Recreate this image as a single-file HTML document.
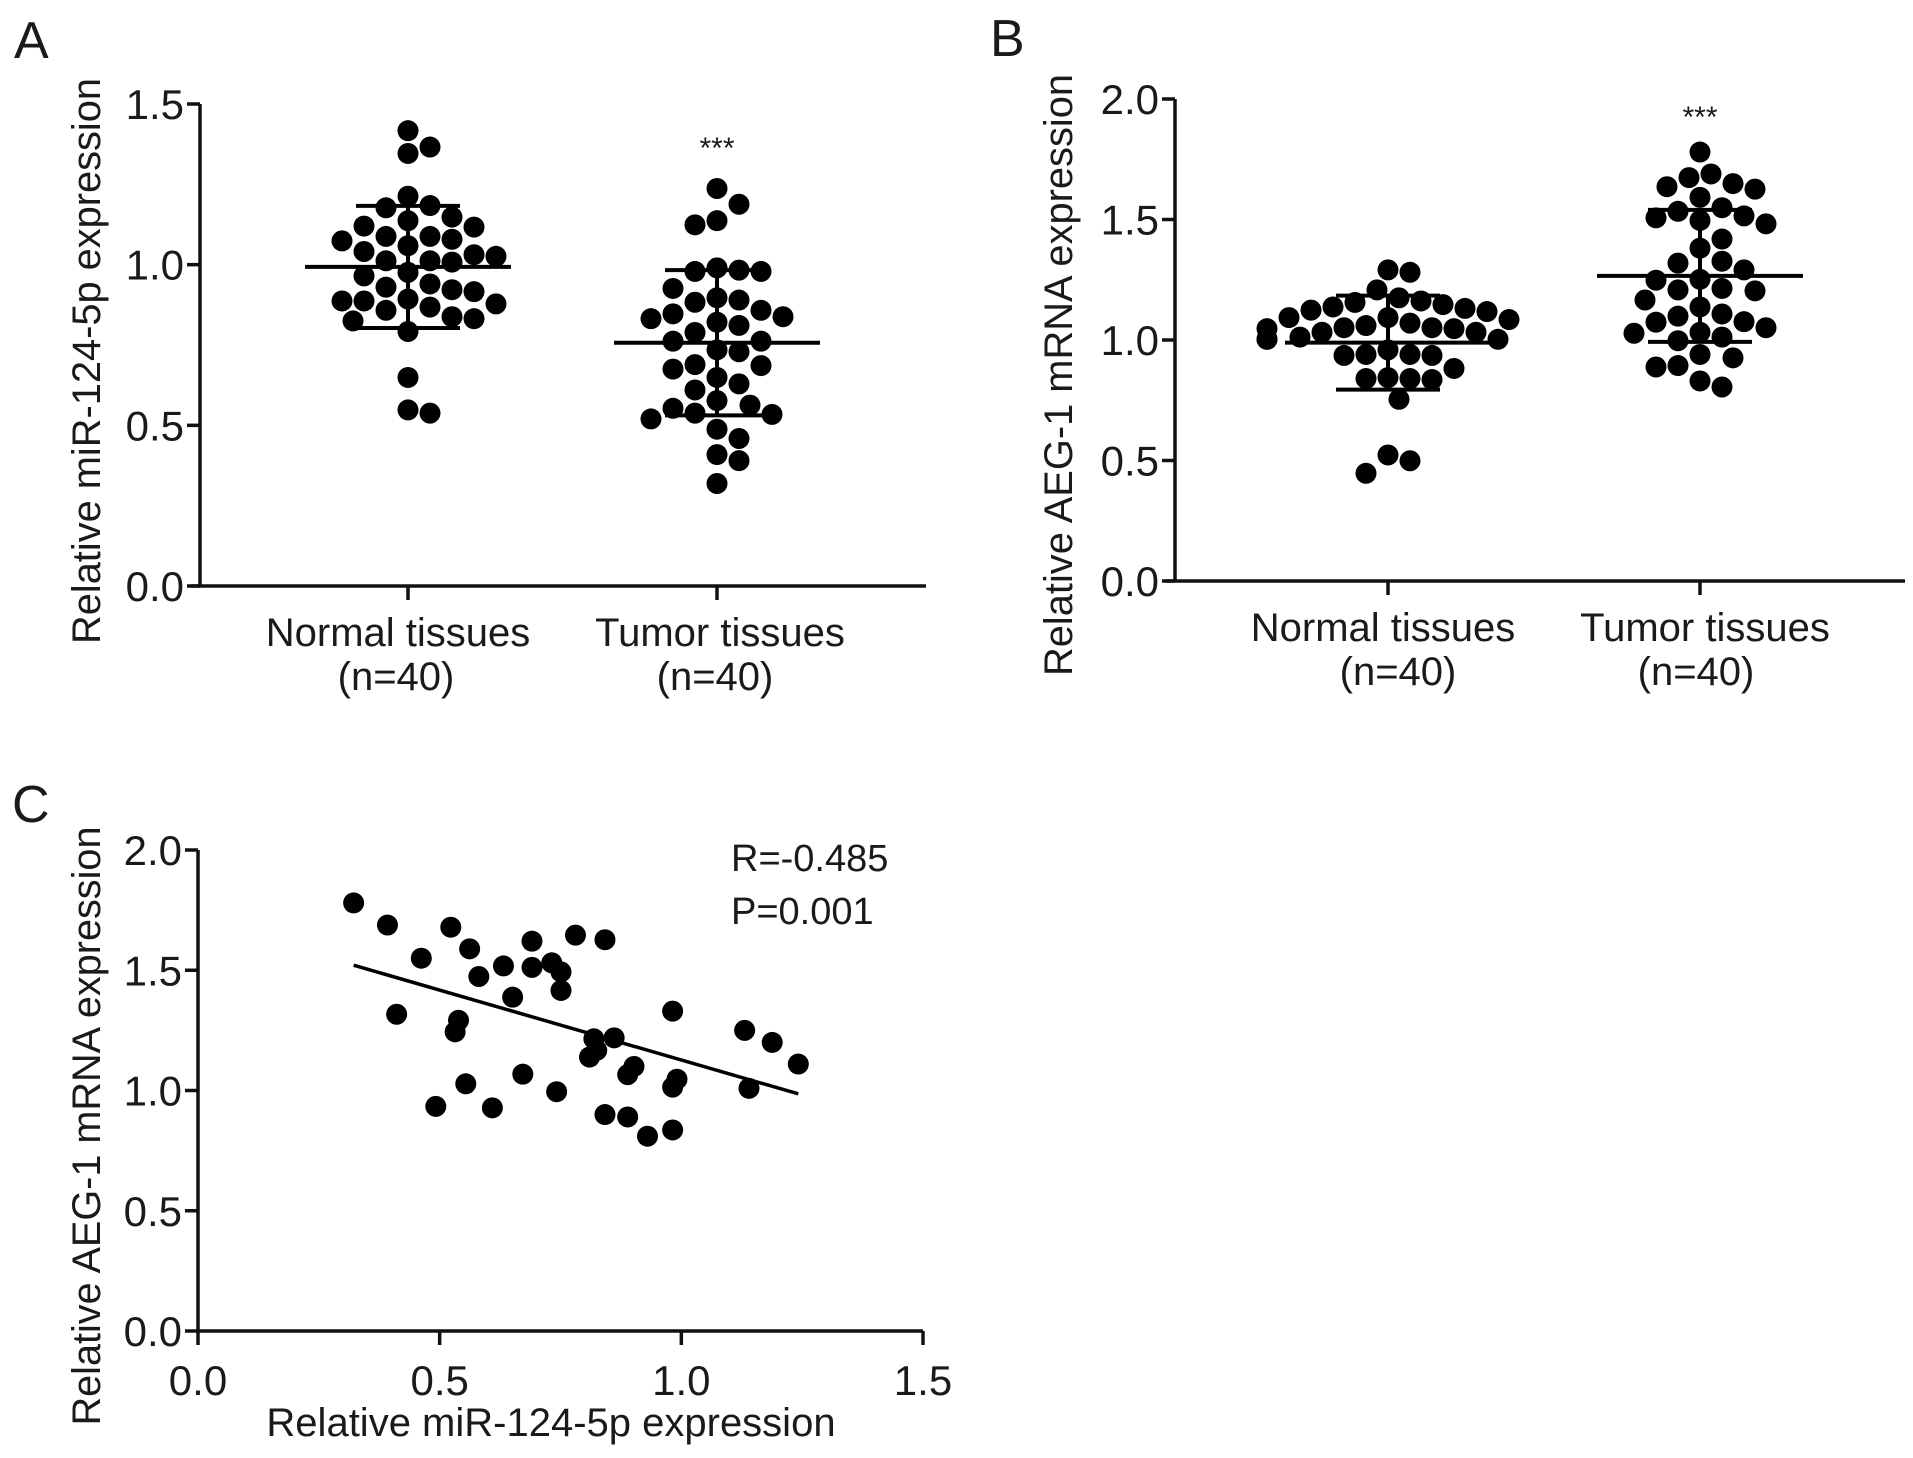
<!DOCTYPE html>
<html><head><meta charset="utf-8"><style>
html,body{margin:0;padding:0;background:#fff}
svg{display:block}
text{font-family:"Liberation Sans",Arial,sans-serif;fill:#1a1a1a}
</style></head><body>
<svg id="fig" width="1913" height="1458" viewBox="0 0 1913 1458" xmlns="http://www.w3.org/2000/svg">
<text x="14" y="58" font-size="52">A</text>
<text x="990" y="56" font-size="52">B</text>
<text x="12" y="822" font-size="52">C</text>
<g id="pa"></g>
<g id="pb"></g>
<g id="pc"></g>
</svg>
<script>
// ---------- Panel A data ----------
const catsA = ["Normal tissues", "Tumor tissues"];
const normalA = [1.417,1.366,1.346,1.184,1.213,1.177,1.148,1.120,1.117,1.137,1.088,1.079,1.059,1.088,1.074,1.031,1.012,1.008,1.012,1.026,1.041,0.965,0.930,0.916,0.922,0.940,0.976,0.887,0.878,0.858,0.832,0.893,0.825,0.838,0.868,0.887,0.792,0.649,0.538,0.548];
const tumorA = [1.237,1.188,1.137,1.124,0.979,0.983,0.979,0.990,0.926,0.890,0.883,0.897,0.858,0.838,0.821,0.847,0.811,0.832,0.729,0.689,0.762,0.789,0.735,0.762,0.649,0.675,0.686,0.629,0.610,0.577,0.553,0.534,0.563,0.520,0.538,0.488,0.459,0.409,0.390,0.319];
const meansA = [0.993, 0.757];
const sdsA = [0.19, 0.226];
const ticksA = [0.0, 0.5, 1.0, 1.5];
const tickLabelsA = ["0.0","0.5","1.0","1.5"];
// ---------- Panel B data ----------
const catsB = ["Normal tissues", "Tumor tissues"];
const normalB = [1.281,1.291,1.208,1.156,1.175,1.162,1.137,1.118,1.093,1.070,1.060,1.051,1.093,1.124,1.131,1.147,1.085,1.051,1.047,1.032,1.003,1.012,1.003,1.047,1.003,1.032,0.959,0.940,0.936,0.940,0.936,0.882,0.840,0.836,0.840,0.844,0.754,0.523,0.499,0.447];
const tumorB = [1.780,1.689,1.674,1.649,1.626,1.636,1.592,1.549,1.515,1.496,1.482,1.507,1.534,1.419,1.381,1.319,1.327,1.291,1.248,1.208,1.204,1.214,1.252,1.166,1.137,1.099,1.074,1.076,1.108,1.051,1.028,0.997,1.012,1.032,0.926,0.888,0.940,0.894,0.805,0.830];
const meansB = [0.989, 1.266];
const sdsB = [0.195, 0.274];
const ticksB = [0.0, 0.5, 1.0, 1.5, 2.0];
const tickLabelsB = ["0.0","0.5","1.0","1.5","2.0"];
// ---------- Panel C data ----------
const mirC = [0.322,0.392,0.523,0.562,0.462,0.632,0.581,0.691,0.691,0.781,0.842,0.732,0.751,0.751,0.651,0.411,0.539,0.532,0.982,0.819,0.861,0.825,0.810,1.131,1.188,1.242,0.672,0.889,0.902,0.991,0.982,0.554,0.742,1.140,0.492,0.609,0.842,0.889,0.982,0.930];
const aegC = [1.780,1.688,1.679,1.589,1.550,1.518,1.474,1.621,1.512,1.646,1.627,1.531,1.493,1.416,1.388,1.317,1.292,1.244,1.330,1.215,1.219,1.167,1.139,1.250,1.200,1.110,1.068,1.066,1.100,1.047,1.014,1.028,0.995,1.009,0.934,0.928,0.900,0.890,0.836,0.810];
const fitX = [0.322, 1.242];
const fitY = [1.521, 0.986];
const xTicksC = [0.0, 0.5, 1.0, 1.5];
const xTickLabelsC = ["0.0","0.5","1.0","1.5"];
const yTicksC = [0.0, 0.5, 1.0, 1.5, 2.0];
const yTickLabelsC = ["0.0","0.5","1.0","1.5","2.0"];

const NS = "http://www.w3.org/2000/svg";
function mk(parent, tag, attrs, txt){
  const e = document.createElementNS(NS, tag);
  for (const k in attrs) e.setAttribute(k, attrs[k]);
  if (txt !== undefined) e.textContent = txt;
  parent.appendChild(e);
  return e;
}
const R = 10.5;

function beeswarm(vals, cx, yf){
  const order = vals.map((v,i)=>i).sort((a,b)=>vals[b]-vals[a]);
  const placed = []; const xs = new Array(vals.length);
  const step = 2*R+1;
  order.forEach(i=>{
    const y = yf(vals[i]);
    const cands = [0];
    for (let k=1;k<12;k++){ cands.push(k*step/2, -k*step/2); }
    let best = cands[cands.length-1];
    for (const c of cands){
      const x = cx + c;
      if (placed.every(p => Math.hypot(p[0]-x, p[1]-y) >= step)){ best = c; break; }
    }
    xs[i] = cx + best; placed.push([cx+best, y]);
  });
  return xs;
}

function dotPanel(g, o){
  const yf = v => o.y0 - v / o.ymax * (o.y0 - o.ytop);
  const ax = mk(g,'line',{x1:o.ax,y1:o.ytop,x2:o.ax,y2:o.y0+1.5,stroke:'#111','stroke-width':3.5});
   
  const bx = mk(g,'line',{x1:o.xl,y1:o.y0,x2:o.xr,y2:o.y0,stroke:'#111','stroke-width':3.5});
   
  o.ticks.forEach((t,i)=>{
    const y = yf(t);
    const tk = mk(g,'line',{x1:o.ax-13,y1:y,x2:o.ax,y2:y,stroke:'#111','stroke-width':3.5});
     
    const tl = mk(g,'text',{x:o.ax-16,y:y+15,'font-size':42,'text-anchor':'end'}, o.tickLabels[i]);
     
  });
  const yt = mk(g,'text',{x:0,y:0,'font-size':40,'text-anchor':'middle',transform:`translate(${o.titleX},${o.titleY}) rotate(-90)`,textLength:o.titleLen,lengthAdjust:'spacingAndGlyphs'}, o.title);
   
  const groups = [o.g1, o.g2];
  o.cats.forEach((c,ci)=>{
    const cx = o.cx[ci];
    const tk = mk(g,'line',{x1:cx,y1:o.y0,x2:cx,y2:o.y0+14,stroke:'#111','stroke-width':3.5});
     
    const l1 = mk(g,'text',{x:cx+o.lblDx[ci],y:o.y0+60,'font-size':40,'text-anchor':'middle'}, c);
     
    const l2 = mk(g,'text',{x:cx+o.nDx[ci],y:o.y0+104,'font-size':40,'text-anchor':'middle'}, '(n=40)');
     
    const vals = groups[ci];
    const xs = beeswarm(vals, cx, yf);
    vals.forEach((v,i)=>{
      const d = mk(g,'circle',{cx:xs[i],cy:yf(v),r:R,fill:'#000'});
       
    });
    const m = o.means[ci], s = o.sds[ci];
    const ml = mk(g,'line',{x1:cx-103,y1:yf(m),x2:cx+103,y2:yf(m),stroke:'#000','stroke-width':4});
     
    const el = mk(g,'line',{x1:cx,y1:yf(m+s),x2:cx,y2:yf(m-s),stroke:'#000','stroke-width':4});
     
    [m+s, m-s].forEach(v=>{
      const cp = mk(g,'line',{x1:cx-52,y1:yf(v),x2:cx+52,y2:yf(v),stroke:'#000','stroke-width':4});
       
    });
  });
  const st = mk(g,'text',{x:o.cx[1],y:o.starY,'font-size':30,'text-anchor':'middle'}, '***');
   
}

dotPanel(document.getElementById('pa'), {
  ax:200, ytop:104, y0:586, ymax:1.5, xl:191, xr:926, cx:[408,717],
  ticks:ticksA, tickLabels:tickLabelsA, cats:catsA, g1:normalA, g2:tumorA,
  means:meansA, sds:sdsA, title:'Relative miR-124-5p expression', titleX:100, titleY:361, titleLen:566,
  lblDx:[-10,3], nDx:[-12,-2], starY:158
});
dotPanel(document.getElementById('pb'), {
  ax:1175, ytop:99, y0:581, ymax:2.0, xl:1166, xr:1905, cx:[1388,1700],
  ticks:ticksB, tickLabels:tickLabelsB, cats:catsB, g1:normalB, g2:tumorB,
  means:meansB, sds:sdsB, title:'Relative AEG-1 mRNA expression', titleX:1072, titleY:375, titleLen:602,
  lblDx:[-5,5], nDx:[10,-4], starY:127
});

// Panel C scatter
(function(){
  const g = document.getElementById('pc');
  const x0 = 198, x1 = 923, y0 = 1331, ytop = 850;
  const xf = v => x0 + v/1.5*(x1-x0);
  const yf = v => y0 - v/2.0*(y0-ytop);
  const ax = mk(g,'line',{x1:x0,y1:ytop,x2:x0,y2:y0+1.5,stroke:'#111','stroke-width':3.5});
   
  const bx = mk(g,'line',{x1:x0-1.5,y1:y0,x2:x1,y2:y0,stroke:'#111','stroke-width':3.5});
   
  yTicksC.forEach((t,i)=>{
    const y = yf(t);
    const tk = mk(g,'line',{x1:x0-13,y1:y,x2:x0,y2:y,stroke:'#111','stroke-width':3.5});
     
    const tl = mk(g,'text',{x:x0-16,y:y+15,'font-size':42,'text-anchor':'end'}, yTickLabelsC[i]);
     
  });
  xTicksC.forEach((t,i)=>{
    const x = xf(t);
    const tk = mk(g,'line',{x1:x,y1:y0,x2:x,y2:y0+14,stroke:'#111','stroke-width':3.5});
     
    const tl = mk(g,'text',{x:x,y:1395,'font-size':42,'text-anchor':'middle'}, xTickLabelsC[i]);
     
  });
  const xt = mk(g,'text',{x:551,y:1436,'font-size':40,'text-anchor':'middle'}, 'Relative miR-124-5p expression');
   
  const yt = mk(g,'text',{x:0,y:0,'font-size':40,'text-anchor':'middle',transform:'translate(100,1126) rotate(-90)',textLength:599,lengthAdjust:'spacingAndGlyphs'}, 'Relative AEG-1 mRNA expression');
   
  mirC.forEach((v,i)=>{
    const d = mk(g,'circle',{cx:xf(v),cy:yf(aegC[i]),r:R,fill:'#000'});
     
  });
  const fl = mk(g,'line',{x1:xf(fitX[0]),y1:yf(fitY[0]),x2:xf(fitX[1]),y2:yf(fitY[1]),stroke:'#000','stroke-width':3.5});
   
  const rt = mk(g,'text',{x:731,y:871,'font-size':38}, 'R=-0.485');
   
  const pt = mk(g,'text',{x:731,y:924,'font-size':38}, 'P=0.001');
   
})();
</script>
</body></html>
